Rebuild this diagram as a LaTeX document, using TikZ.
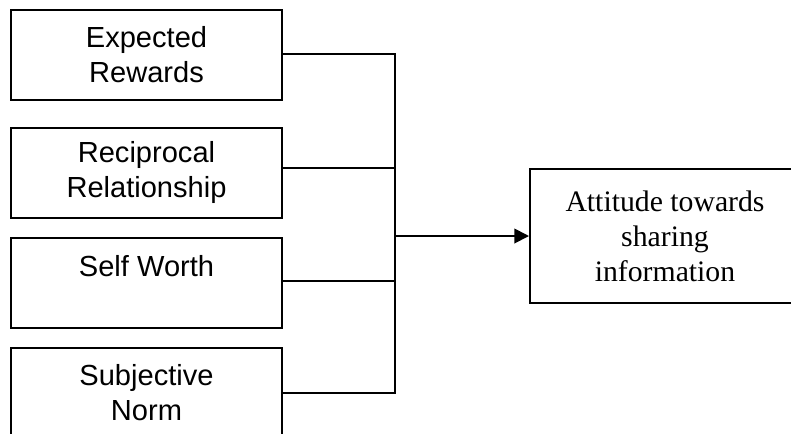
\documentclass[tikz,border=0pt]{standalone}
\usepackage{fontspec}
\usetikzlibrary{arrows.meta,shapes}
\newfontfamily\factorfont{Liberation Sans}
\newfontfamily\outcomefont{Liberation Serif}
\tikzstyle{factor}=[rectangle,draw,line width=1.5pt,minimum width=203pt,minimum height=67.5pt,align=center,font=\factorfont\fontsize{21.8}{26.25}\selectfont]
\tikzstyle{outcome}=[rectangle,draw,line width=1.5pt,minimum width=202.5pt,minimum height=101pt,align=center,font=\outcomefont\fontsize{22.3}{26.25}\selectfont]
\tikzstyle{link} = [draw,line width=1.4pt]

\begin{document}
\begin{tikzpicture}[x=0.75pt,y=-0.75pt]

    \useasboundingbox (0,0) rectangle (791,433);
    \clip (0,0) rectangle (791,433);

     \foreach \y/\name/\text in {55/expected/{Expected\\Rewards}, 172.5/reciprocal/{Reciprocal\\Relationship}, 283/selfworth/{Self Worth\\~}, 393/subjective/{Subjective\\Norm}}
        \node[factor] (\name) at (146.5,\y) {\text};

    \node[outcome] (attitude) at (665,236) {Attitude towards\\sharing\\information};

    \coordinate (join) at (395,236);

    \foreach \name/\dy in {expected/0.75pt, reciprocal/3.4pt, selfworth/1.5pt, subjective/0pt}
        \path[link] ([yshift=\dy]\name.east) -| (join);

    \path[link,-{Triangle[length=11pt,width=11pt]}] (join) -- (attitude.west);

   \end{tikzpicture}
\end{document}
